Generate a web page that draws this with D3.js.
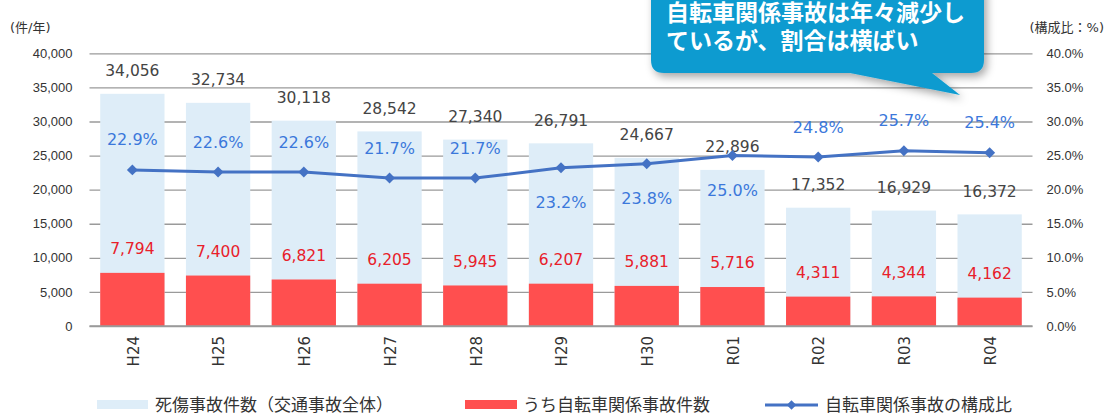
<!DOCTYPE html>
<html>
<head>
<meta charset="utf-8">
<script src="https://cdn.jsdelivr.net/npm/d3@7"></script>
<style>
  html, body { margin: 0; padding: 0; background: #fff; }
  svg { display: block; font-family: "DejaVu Sans", "Noto Sans CJK JP", sans-serif; }
</style>
</head>
<body>
<div id="container"></div>
<script>
// data
const years = ["H24", "H25", "H26", "H27", "H28", "H29", "H30", "R01", "R02", "R03", "R04"]
const totalAccidents = [34056, 32734, 30118, 28542, 27340, 26791, 24667, 22896, 17352, 16929, 16372]
const bicycleAccidents = [7794, 7400, 6821, 6205, 5945, 6207, 5881, 5716, 4311, 4344, 4162]
const bicycleShare = [22.9, 22.6, 22.6, 21.7, 21.7, 23.2, 23.8, 25.0, 24.8, 25.7, 25.4]
const leftTicks = [0, 5000, 10000, 15000, 20000, 25000, 30000, 35000, 40000]
const rightTicks = [0, 5, 10, 15, 20, 25, 30, 35, 40]
// where the % label sits relative to the point
const shareLabelSide = ["up", "up", "up", "up", "up", "down", "down", "down", "up", "up", "up"]

const W = 1110, H = 419
const margin = { left: 89.5, right: 77.5, top: 53.3, bottom: 93 }

const svg = d3.select("#container").append("svg")
  .attr("width", W).attr("height", H)

const x = d3.scaleBand()
  .domain(years)
  .range([margin.left, W - margin.right])
  .paddingInner(0.25)
  .paddingOuter(0.125)

const y = d3.scaleLinear().domain([0, 40000]).range([H - margin.bottom, margin.top])
const y2 = d3.scaleLinear().domain([0, 40]).range([H - margin.bottom, margin.top])

const fmt = d3.format(",")

// gridlines + left axis
const yAxis = svg.append("g")
  .attr("transform", `translate(${margin.left},0)`)
  .call(d3.axisLeft(y).tickValues(leftTicks).tickFormat(fmt)
    .tickSize(-(W - margin.left - margin.right)).tickPadding(17))
yAxis.select(".domain").remove()
yAxis.selectAll(".tick line").attr("stroke", "#9a9a9a").attr("stroke-width", 1.3)
yAxis.selectAll(".tick text").attr("fill", "#333").style("font-size", "13px")

const y2Axis = svg.append("g")
  .attr("transform", `translate(${W - margin.right},0)`)
  .call(d3.axisRight(y2).tickValues(rightTicks).tickFormat(d => d.toFixed(1) + "%")
    .tickSize(0).tickPadding(14))
y2Axis.select(".domain").remove()
y2Axis.selectAll(".tick text").attr("fill", "#333").style("font-size", "13px")

// axis titles
svg.append("text").attr("x", 10).attr("y", 32)
  .attr("fill", "#333").style("font-size", "13px").text("(件/年)")
svg.append("text").attr("x", 1104).attr("y", 32).attr("text-anchor", "end")
  .attr("fill", "#333").style("font-size", "13px").text("(構成比：%)")

// bars
svg.append("g").selectAll("rect").data(totalAccidents).join("rect")
  .attr("x", (d, i) => x(years[i]))
  .attr("y", d => y(d))
  .attr("width", x.bandwidth())
  .attr("height", d => y(0) - y(d))
  .attr("fill", "#deedf8")

svg.append("g").selectAll("rect").data(bicycleAccidents).join("rect")
  .attr("x", (d, i) => x(years[i]))
  .attr("y", d => y(d))
  .attr("width", x.bandwidth())
  .attr("height", d => y(0) - y(d))
  .attr("fill", "#ff4f4f")

// baseline
svg.append("line")
  .attr("x1", margin.left).attr("x2", W - margin.right)
  .attr("y1", y(0)).attr("y2", y(0))
  .attr("stroke", "#9a9a9a").attr("stroke-width", 1.5)

// x labels, rotated
svg.append("g").selectAll("text").data(years).join("text")
  .attr("transform", d => `translate(${x(d) + x.bandwidth() / 2 + 1},${y(0) + 10}) rotate(-90)`)
  .attr("text-anchor", "end")
  .attr("dy", "0.35em")
  .attr("fill", "#333")
  .style("font-size", "15px")
  .text(d => d)

// value labels
const cx = i => x(years[i]) + x.bandwidth() / 2

svg.append("g").selectAll("text").data(totalAccidents).join("text")
  .attr("x", (d, i) => cx(i))
  .attr("y", d => y(d) - 23)
  .attr("dy", "0.35em")
  .attr("text-anchor", "middle")
  .attr("fill", "#444")
  .style("font-size", "15.5px")
  .text(d => fmt(d))

svg.append("g").selectAll("text").data(bicycleAccidents).join("text")
  .attr("x", (d, i) => cx(i))
  .attr("y", d => y(d) - 24)
  .attr("dy", "0.35em")
  .attr("text-anchor", "middle")
  .attr("fill", "#e8202a")
  .style("font-size", "15.5px")
  .text(d => fmt(d))

// share line
const line = d3.line()
  .x((d, i) => cx(i))
  .y(d => y2(d))

svg.append("path")
  .datum(bicycleShare)
  .attr("d", line)
  .attr("fill", "none")
  .attr("stroke", "#4472c4")
  .attr("stroke-width", 3)

svg.append("g").selectAll("path").data(bicycleShare).join("path")
  .attr("d", d3.symbol(d3.symbolSquare, 60))
  .attr("transform", (d, i) => `translate(${cx(i)},${y2(d)}) rotate(45)`)
  .attr("fill", "#4472c4")

svg.append("g").selectAll("text").data(bicycleShare).join("text")
  .attr("x", (d, i) => cx(i))
  .attr("y", (d, i) => y2(d) + (shareLabelSide[i] == "up" ? -30 : 35))
  .attr("dy", "0.35em")
  .attr("text-anchor", "middle")
  .attr("fill", "#3b78db")
  .style("font-size", "16px")
  .text(d => d.toFixed(1) + "%")

// legend
const legend = svg.append("g").style("font-size", "17px").attr("fill", "#333")
legend.append("rect").attr("x", 97).attr("y", 400).attr("width", 51).attr("height", 9).attr("fill", "#deedf8")
legend.append("text").attr("x", 155).attr("y", 405).attr("dy", "0.35em").text("死傷事故件数（交通事故全体）")
legend.append("rect").attr("x", 465).attr("y", 400).attr("width", 52).attr("height", 9).attr("fill", "#ff4f4f")
legend.append("text").attr("x", 523).attr("y", 405).attr("dy", "0.35em").text("うち自転車関係事故件数")
legend.append("line").attr("x1", 765).attr("x2", 818).attr("y1", 405).attr("y2", 405)
  .attr("stroke", "#4472c4").attr("stroke-width", 3)
legend.append("path").attr("d", d3.symbol(d3.symbolSquare, 45))
  .attr("transform", "translate(791.5,405) rotate(45)").attr("fill", "#4472c4")
legend.append("text").attr("x", 825).attr("y", 405).attr("dy", "0.35em").text("自転車関係事故の構成比")

// callout
const defs = svg.append("defs")
const f = defs.append("filter").attr("id", "shadow").attr("x", "-10%").attr("y", "-10%").attr("width", "130%").attr("height", "150%")
f.append("feDropShadow").attr("dx", 3).attr("dy", 4).attr("stdDeviation", 4)
  .attr("flood-color", "#000").attr("flood-opacity", 0.35)

const callout = svg.append("g").attr("filter", "url(#shadow)")
const bx0 = 651, bx1 = 984, by0 = -20, by1 = 73, r = 13
callout.append("path")
  .attr("d", `M${bx0 + r},${by0} H${bx1 - r} Q${bx1},${by0} ${bx1},${by0 + r} V${by1 - r} Q${bx1},${by1} ${bx1 - r},${by1}
    H${932} L${960},${95} L${850},${by1} H${bx0 + r} Q${bx0},${by1} ${bx0},${by1 - r} V${by0 + r} Q${bx0},${by0} ${bx0 + r},${by0} Z`)
  .attr("fill", "#0b9bd0")

svg.append("text").attr("x", 666).attr("y", 13).attr("dy", "0.35em")
  .attr("fill", "#fff").style("font-family", "'Noto Sans CJK JP', sans-serif")
  .style("font-size", "23px").style("font-weight", "700")
  .text("自転車関係事故は年々減少し")
svg.append("text").attr("x", 666).attr("y", 41).attr("dy", "0.35em")
  .attr("fill", "#fff").style("font-family", "'Noto Sans CJK JP', sans-serif")
  .style("font-size", "23px").style("font-weight", "700")
  .text("ているが、割合は横ばい")
</script>
</body>
</html>
